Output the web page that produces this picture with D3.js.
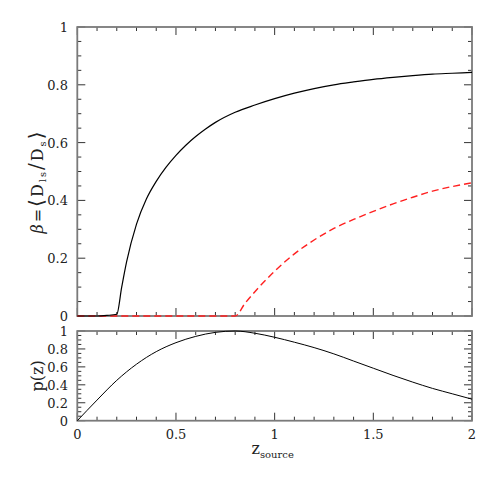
<!DOCTYPE html>
<html>
<head>
<meta charset="utf-8">
<script src="https://cdn.jsdelivr.net/npm/d3@7"></script>
<style>
  body { margin: 0; background: #fff; }
</style>
</head>
<body>
<div id="chart"></div>
<script>
// beta = <D_ls/D_s>, solid black (lens at z~0.2)
var betaZ    = [0, 0.1, 0.15, 0.2, 0.225, 0.25, 0.3, 0.35, 0.4, 0.45, 0.5, 0.55, 0.6, 0.65, 0.7, 0.8, 0.9, 1.0, 1.1, 1.2, 1.3, 1.4, 1.5, 1.6, 1.7, 1.8, 1.9, 2.0];
var betaVals = [0, 0, 0.002, 0.006, 0.1, 0.188, 0.318, 0.405, 0.466, 0.515, 0.556, 0.591, 0.621, 0.647, 0.670, 0.705, 0.730, 0.752, 0.771, 0.787, 0.800, 0.810, 0.819, 0.826, 0.832, 0.837, 0.840, 0.843];

// red dashed (lens at z~0.8)
var beta2Z    = [0, 0.8, 0.85, 0.9, 1.0, 1.1, 1.2, 1.3, 1.4, 1.5, 1.6, 1.7, 1.8, 1.9, 2.0];
var beta2Vals = [0, 0, 0.044, 0.084, 0.155, 0.215, 0.263, 0.303, 0.334, 0.362, 0.388, 0.411, 0.432, 0.448, 0.461];

// p(z) source distribution
var pZ    = [0, 0.1, 0.2, 0.3, 0.4, 0.5, 0.6, 0.7, 0.8, 0.9, 1.0, 1.1, 1.2, 1.3, 1.4, 1.5, 1.6, 1.7, 1.8, 1.9, 2.0];
var pVals = [0, 0.23, 0.45, 0.63, 0.77, 0.87, 0.94, 0.985, 1.0, 0.975, 0.93, 0.875, 0.815, 0.745, 0.665, 0.585, 0.505, 0.43, 0.36, 0.3, 0.24];

var xTicks = [0, 0.5, 1, 1.5, 2];
var yTicksTop = [0, 0.2, 0.4, 0.6, 0.8, 1];
var yTicksBot = [0, 0.2, 0.4, 0.6, 0.8, 1];

var width = 498, height = 498;
var left = 77.3, right = 472;
var serif = "'DejaVu Serif', 'Liberation Serif', serif";

var svg = d3.select("#chart").append("svg")
    .attr("width", width)
    .attr("height", height);

var x = d3.scaleLinear().domain([0, 2]).range([left, right]);
var yTop = d3.scaleLinear().domain([0, 1]).range([316, 27]);
var yBot = d3.scaleLinear().domain([0, 1]).range([420.7, 331]);

var frameCol = "#7a7a7a";

function panel(y, yTicks, yMinor) {
    var g = svg.append("g");
    var y0 = y.range()[0], y1 = y.range()[1];
    // ticks all round, pointing in
    d3.range(0, 2.0001, 0.1).forEach(function (v) {
        var major = Math.abs(v * 2 - Math.round(v * 2)) < 1e-6;
        var len = major ? 8 : 4;
        g.append("line").attr("x1", x(v)).attr("x2", x(v))
            .attr("y1", y0).attr("y2", y0 - len)
            .attr("stroke", "#333").attr("stroke-width", 1);
        g.append("line").attr("x1", x(v)).attr("x2", x(v))
            .attr("y1", y1).attr("y2", y1 + len)
            .attr("stroke", "#333").attr("stroke-width", 1);
    });
    d3.range(0, 1.0001, yMinor).forEach(function (v) {
        var major = Math.abs(v * 5 - Math.round(v * 5)) < 1e-6;
        var len = major ? 8 : 4;
        g.append("line").attr("x1", left).attr("x2", left + len)
            .attr("y1", y(v)).attr("y2", y(v))
            .attr("stroke", "#333").attr("stroke-width", 1);
        g.append("line").attr("x1", right).attr("x2", right - len)
            .attr("y1", y(v)).attr("y2", y(v))
            .attr("stroke", "#333").attr("stroke-width", 1);
    });
    g.append("rect")
        .attr("x", left).attr("y", y1)
        .attr("width", right - left).attr("height", y0 - y1)
        .attr("fill", "none")
        .attr("stroke", frameCol)
        .attr("stroke-width", 1.8);
    g.selectAll(".ylab").data(yTicks).enter().append("text")
        .attr("x", 68)
        .attr("y", function (d) { return y(d); })
        .attr("dy", "0.38em")
        .attr("text-anchor", "end")
        .attr("font-family", serif)
        .attr("font-size", "13px")
        .attr("fill", "#222")
        .text(function (d) { return d3.format("")(d); });
    return g;
}

panel(yTop, yTicksTop, 0.05);
panel(yBot, yTicksBot, 0.05);

// x tick labels
svg.selectAll(".xlab").data(xTicks).enter().append("text")
    .attr("x", function (d) { return x(d); })
    .attr("y", 439)
    .attr("text-anchor", "middle")
    .attr("font-family", serif)
    .attr("font-size", "13px")
    .attr("fill", "#222")
    .text(function (d) { return d; });

svg.append("path")
    .datum(d3.zip(beta2Z, beta2Vals))
    .attr("d", d3.line().curve(d3.curveMonotoneX)
        .x(function (d) { return x(d[0]); })
        .y(function (d) { return yTop(d[1]); }))
    .attr("fill", "none")
    .attr("stroke", "#ff2020")
    .attr("stroke-width", 1.4)
    .attr("stroke-dasharray", "7,4");

svg.append("path")
    .datum(d3.zip(betaZ, betaVals))
    .attr("d", d3.line().curve(d3.curveMonotoneX)
        .x(function (d) { return x(d[0]); })
        .y(function (d) { return yTop(d[1]); }))
    .attr("fill", "none")
    .attr("stroke", "#000")
    .attr("stroke-width", 1.2);

svg.append("path")
    .datum(d3.zip(pZ, pVals))
    .attr("d", d3.line().curve(d3.curveMonotoneX)
        .x(function (d) { return x(d[0]); })
        .y(function (d) { return yBot(d[1]); }))
    .attr("fill", "none")
    .attr("stroke", "#000")
    .attr("stroke-width", 1);

// x axis title
var xt = svg.append("text")
    .attr("x", x(1) - 2)
    .attr("y", 454)
    .attr("text-anchor", "middle")
    .attr("font-family", serif)
    .attr("font-size", "16px")
    .attr("fill", "#222");
xt.append("tspan").text("z");
xt.append("tspan").attr("dy", 4).attr("font-size", "10px").text("source");

// y axis title, top panel
var yt = svg.append("text")
    .attr("transform", "translate(43," + (yTop(0.5) + 10) + ") rotate(-90)")
    .attr("text-anchor", "middle")
    .attr("font-family", serif)
    .attr("font-size", "16px")
    .attr("letter-spacing", "2px")
    .attr("fill", "#222");
yt.append("tspan").attr("font-style", "italic").text("β");
yt.append("tspan").text("=");
yt.append("tspan").attr("font-size", "20px").text("⟨");
yt.append("tspan").text("D");
yt.append("tspan").attr("dy", 3).attr("font-size", "10px").text("ls");
yt.append("tspan").attr("dy", -3).attr("font-size", "20px").text("/");
yt.append("tspan").text("D");
yt.append("tspan").attr("dy", 3).attr("font-size", "10px").text("s");
yt.append("tspan").attr("dy", -3).attr("font-size", "20px").text("⟩");

// y axis title, bottom panel
svg.append("text")
    .attr("transform", "translate(43," + yBot(0.5) + ") rotate(-90)")
    .attr("text-anchor", "middle")
    .attr("font-family", serif)
    .attr("font-size", "16px")
    .attr("fill", "#222")
    .text("p(z)");
</script>
</body>
</html>
